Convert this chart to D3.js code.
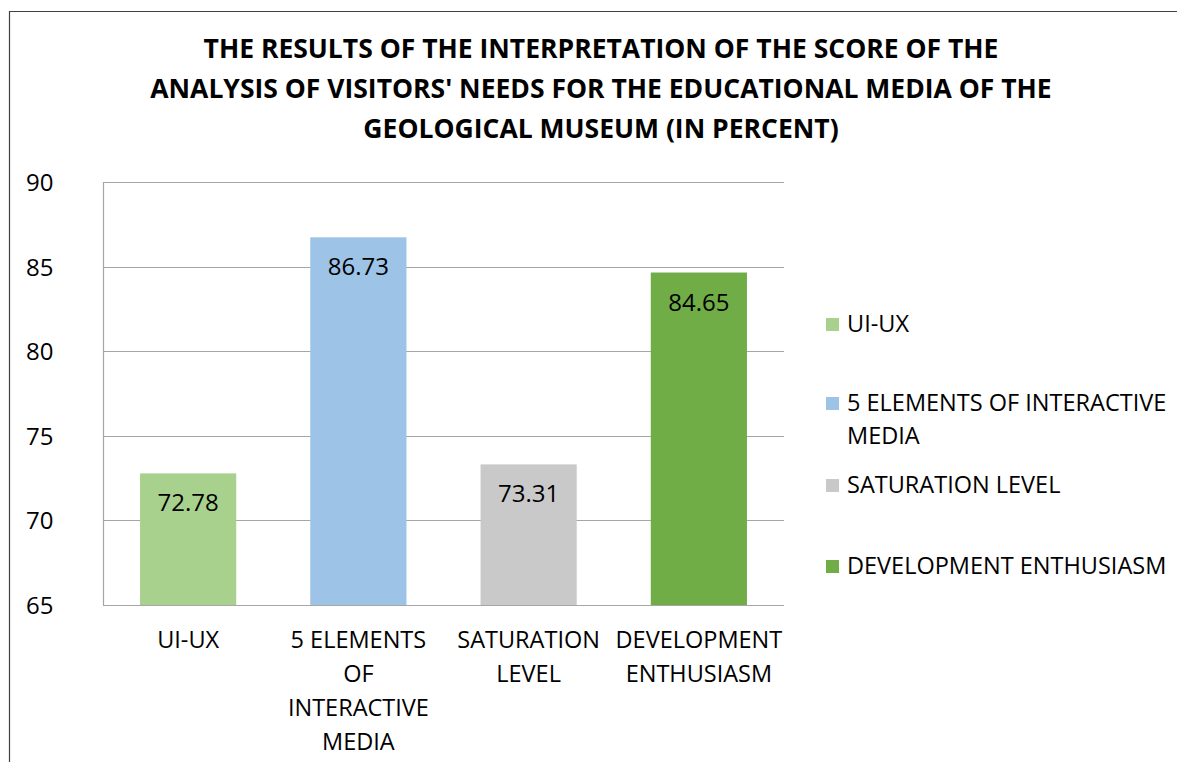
<!DOCTYPE html>
<html>
<head>
<meta charset="utf-8">
<script src="https://cdn.jsdelivr.net/npm/d3@7"></script>
<style>
  body { margin: 0; background: #fff; }
  text { font-family: "Open Sans", "Noto Sans", sans-serif; fill: #000; }
</style>
</head>
<body>
<div id="chart"></div>
<script>
(function() {
    var width = 1177;
    var height = 762;

    var titleLines = [
        "THE RESULTS OF THE INTERPRETATION OF THE SCORE OF THE",
        "ANALYSIS OF VISITORS' NEEDS FOR THE EDUCATIONAL MEDIA OF THE",
        "GEOLOGICAL MUSEUM (IN PERCENT)"
    ];
    var categories = ["UI-UX", "5 ELEMENTS OF INTERACTIVE MEDIA", "SATURATION LEVEL", "DEVELOPMENT ENTHUSIASM"];
    var values = [72.78, 86.73, 73.31, 84.65];
    var colors = ["#a9d18e", "#9dc3e6", "#c9c9c9", "#70ad47"];
    var yTicks = [65, 70, 75, 80, 85, 90];

    var margin = {left: 103, top: 182, right: 1177 - 784, bottom: 762 - 605};

    var svg = d3.select("#chart").append("svg")
        .attr("width", width)
        .attr("height", height);

    // chart frame (only top and left edges are visible in the crop)
    svg.append("line")
        .attr("x1", 9.5).attr("x2", 9.5).attr("y1", 11).attr("y2", height)
        .attr("stroke", "#404040").attr("stroke-width", 1.2);
    svg.append("line")
        .attr("x1", 9).attr("x2", width).attr("y1", 11.5).attr("y2", 11.5)
        .attr("stroke", "#404040").attr("stroke-width", 1.2);

    svg.append("g").selectAll("text")
        .data(titleLines)
        .enter().append("text")
        .attr("x", 601)
        .attr("y", function(d, i) { return 58 + i * 40; })
        .attr("text-anchor", "middle")
        .style("font-size", "26.5px")
        .style("font-weight", "bold")
        .text(function(d) { return d; });

    var x = d3.scaleBand()
        .domain(categories)
        .range([margin.left, width - margin.right])
        .paddingInner(0.435)
        .paddingOuter(0.2175);

    var y = d3.scaleLinear()
        .domain([65, 90])
        .range([height - margin.bottom, margin.top]);

    // gridlines
    svg.append("g").selectAll("line")
        .data(yTicks)
        .enter().append("line")
        .attr("x1", margin.left)
        .attr("x2", width - margin.right)
        .attr("y1", function(d) { return Math.round(y(d)) + 0.5; })
        .attr("y2", function(d) { return Math.round(y(d)) + 0.5; })
        .attr("stroke", "#a6a6a6")
        .attr("stroke-width", 1.2);

    svg.append("line")
        .attr("x1", margin.left + 0.5).attr("x2", margin.left + 0.5)
        .attr("y1", y(90)).attr("y2", y(65))
        .attr("stroke", "#a6a6a6").attr("stroke-width", 1.2);

    svg.append("g").selectAll("text")
        .data(yTicks)
        .enter().append("text")
        .attr("x", 26)
        .attr("y", function(d) { return y(d) + 9; })
        .style("font-size", "24px")
        .text(function(d) { return d; });

    // bars
    svg.append("g").selectAll("rect")
        .data(values)
        .enter().append("rect")
        .attr("x", function(d, i) { return x(categories[i]); })
        .attr("y", function(d) { return y(d); })
        .attr("width", x.bandwidth())
        .attr("height", function(d) { return y(65) - y(d); })
        .attr("fill", function(d, i) { return colors[i]; });

    svg.append("g").selectAll("text")
        .data(values)
        .enter().append("text")
        .attr("x", function(d, i) { return x(categories[i]) + x.bandwidth() / 2; })
        .attr("y", function(d) { return y(d) + 38; })
        .attr("text-anchor", "middle")
        .style("font-size", "24px")
        .text(function(d) { return d.toFixed(2); });

    function wrapLines(str, maxW, size) {
        var probe = svg.append("text").style("font-size", size);
        var words = str.split(" "), lines = [], cur = "";
        words.forEach(function(w) {
            var test = cur ? cur + " " + w : w;
            probe.text(test);
            if (cur && probe.node().getComputedTextLength() > maxW) {
                lines.push(cur);
                cur = w;
            } else {
                cur = test;
            }
        });
        lines.push(cur);
        probe.remove();
        return lines;
    }

    // category labels
    categories.forEach(function(c) {
        var lines = wrapLines(c, 170, "23.5px");
        svg.append("text")
            .attr("x", x(c) + x.bandwidth() / 2)
            .attr("y", 648)
            .attr("text-anchor", "middle")
            .style("font-size", "23.5px")
            .selectAll("tspan")
            .data(lines)
            .enter().append("tspan")
            .attr("x", x(c) + x.bandwidth() / 2)
            .attr("dy", function(d, i) { return i === 0 ? 0 : 34; })
            .text(function(d) { return d; });
    });

    // legend
    var legendY = [318, 397, 479, 560];
    categories.forEach(function(c, i) {
        var lines = wrapLines(c, 330, "23.5px");
        svg.append("rect")
            .attr("x", 826).attr("y", legendY[i])
            .attr("width", 13).attr("height", 13)
            .attr("fill", colors[i]);
        svg.append("text")
            .attr("x", 847)
            .attr("y", legendY[i] + 14)
            .style("font-size", "23.5px")
            .selectAll("tspan")
            .data(lines)
            .enter().append("tspan")
            .attr("x", 847)
            .attr("dy", function(d, j) { return j === 0 ? 0 : 33; })
            .text(function(d) { return d; });
    });
})();
</script>
</body>
</html>
